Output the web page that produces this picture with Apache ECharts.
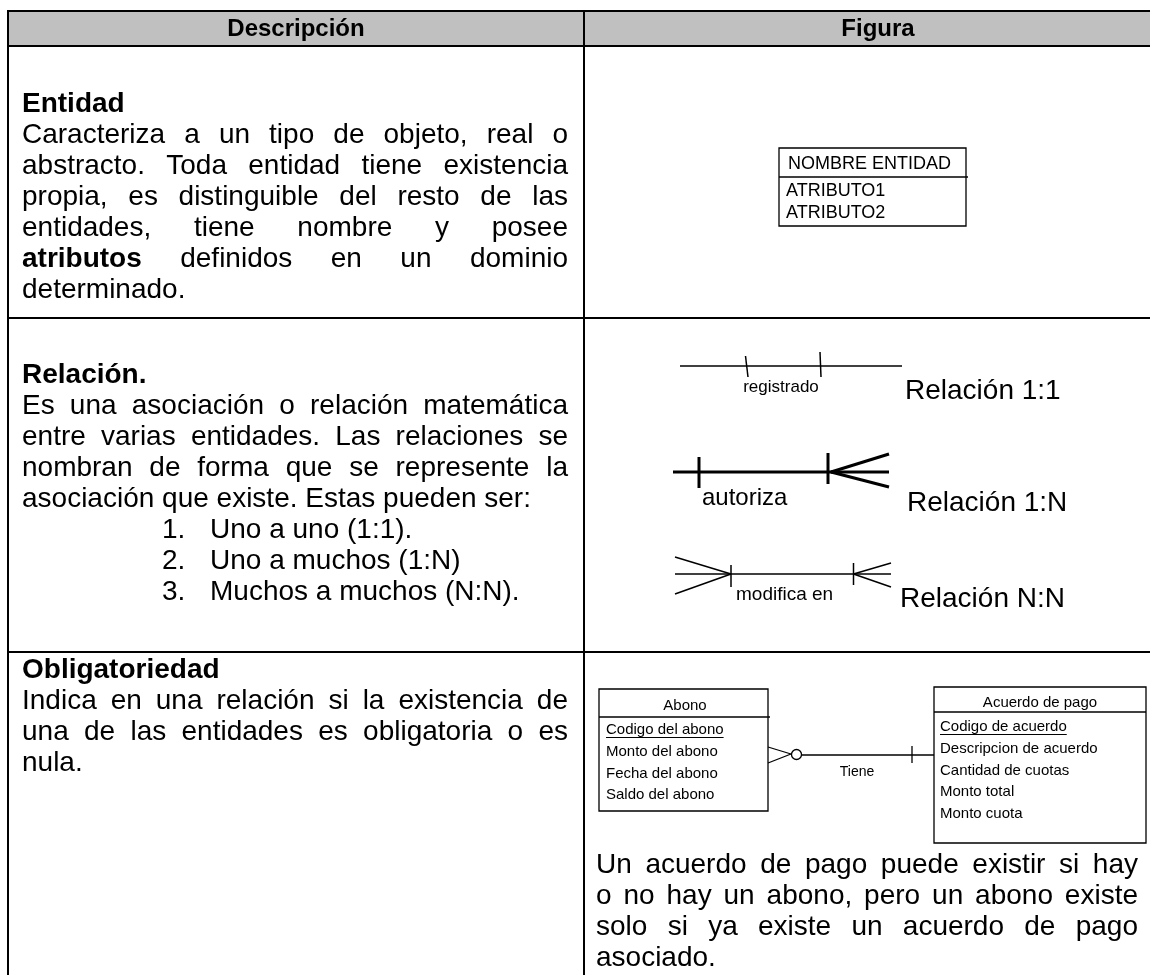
<!DOCTYPE html>
<html><head><meta charset="utf-8">
<script src="https://cdn.jsdelivr.net/npm/echarts@6/dist/echarts.min.js"></script>
<style>html,body{margin:0;padding:0;background:#fff}#c{width:1150px;height:975px}</style>
</head><body><div id="c"></div>
<script>
// ---- content ----
const headers = ['Descripción', 'Figura'];
const rowTitles = ['Entidad', 'Relación.', 'Obligatoriedad'];
const entidadLines = ['Caracteriza a un tipo de objeto, real o', 'abstracto. Toda entidad tiene existencia', 'propia, es distinguible del resto de las', 'entidades, tiene nombre y posee', '**atributos** definidos en un dominio', 'determinado.'];
const relacionLines = ['Es una asociación o relación matemática', 'entre varias entidades. Las relaciones se', 'nombran de forma que se represente la', 'asociación que existe. Estas pueden ser:'];
const relacionTipos = ['Uno a uno (1:1).', 'Uno a muchos (1:N)', 'Muchos a muchos (N:N).'];
const obligLines = ['Indica en una relación si la existencia de', 'una de las entidades es obligatoria o es', 'nula.'];
const obligNota = ['Un acuerdo de pago puede existir si hay', 'o no hay un abono, pero un abono existe', 'solo si ya existe un acuerdo de pago', 'asociado.'];
const entidadEjemplo = 'NOMBRE ENTIDAD';
const atributosEjemplo = ['ATRIBUTO1', 'ATRIBUTO2'];
const relNombres = ['registrado', 'autoriza', 'modifica en'];
const relEtiquetas = ['Relación 1:1', 'Relación 1:N', 'Relación N:N'];
const abonoTitulo = 'Abono';
const abonoAtributos = ['Codigo del abono', 'Monto del abono', 'Fecha del abono', 'Saldo del abono'];
const acuerdoTitulo = 'Acuerdo de pago';
const acuerdoAtributos = ['Codigo de acuerdo', 'Descripcion de acuerdo', 'Cantidad de cuotas', 'Monto total', 'Monto cuota'];
const relacionEjemplo = 'Tiene';

// ---- layout ----
const FAM = '"Liberation Sans", Arial, sans-serif';
const BODY = 28, LH = 31;
const L = 8, MID = 584, RIGHT = 1160, TOP = 11, HEAD_B = 46, ROWS_B = [318, 652, 990];
const ctx = document.createElement('canvas').getContext('2d');
function fontStr(size, bold) { return (bold ? 'bold ' : '') + size + 'px ' + FAM; }
function measure(t, size, bold) { ctx.font = fontStr(size, bold); return ctx.measureText(t).width; }

const G = [];
function txt(x, y, t, size, o) {
  o = o || {};
  G.push({ type: 'text', x: x, y: y + 1, silent: true, z: 10,
    style: { text: t, font: fontStr(size, o.bold), fill: o.fill || '#000',
      align: o.align || 'left', verticalAlign: 'middle' } });
}
function ln(x1, y1, x2, y2, w, c) {
  G.push({ type: 'line', silent: true, z: 5, shape: { x1: x1, y1: y1, x2: x2, y2: y2 },
    style: { stroke: c || '#000', lineWidth: w } });
}
function box(x, y, w, h, lw) {
  G.push({ type: 'rect', silent: true, z: 5, shape: { x: x, y: y, width: w, height: h },
    style: { fill: 'none', stroke: '#000', lineWidth: lw } });
}
function para(lines, x0, x1, y0, size) {
  lines.forEach(function (line, i) {
    const words = line.split(' ').map(function (w) { return { t: w.replace(/\*\*/g, ''), b: w.indexOf('**') === 0 }; });
    const ws = words.map(function (w) { return measure(w.t, size, w.b); });
    const tot = ws.reduce(function (a, b) { return a + b; }, 0);
    const last = i === lines.length - 1;
    const gap = (!last && words.length > 1) ? (x1 - x0 - tot) / (words.length - 1) : measure(' ', size, false);
    let x = x0;
    words.forEach(function (w, k) { txt(x, y0 + i * LH, w.t, size, { bold: w.b }); x += ws[k] + gap; });
  });
}

// ---- table ----
G.push({ type: 'rect', silent: true, z: 1, shape: { x: L, y: TOP, width: RIGHT - L, height: HEAD_B - TOP }, style: { fill: '#c0c0c0' } });
[TOP, HEAD_B].concat(ROWS_B.slice(0, 2)).forEach(function (y) { ln(L - 1, y, RIGHT, y, 2); });
[L, MID].forEach(function (x) { ln(x, TOP - 1, x, 990, 2); });
txt((L + MID) / 2, 28, headers[0], 24, { bold: true, align: 'center' });
txt(878, 28, headers[1], 24, { bold: true, align: 'center' });

const TX0 = 22, TX1 = 568;
// Row 1
txt(TX0, 103, rowTitles[0], BODY, { bold: true });
para(entidadLines, TX0, TX1, 134, BODY);
// Row 2
txt(TX0, 374, rowTitles[1], BODY, { bold: true });
para(relacionLines, TX0, TX1, 405, BODY);
relacionTipos.forEach(function (t, i) {
  txt(162, 529 + i * LH, (i + 1) + '.', BODY);
  txt(210, 529 + i * LH, t, BODY);
});
// Row 3
txt(TX0, 669, rowTitles[2], BODY, { bold: true });
para(obligLines, TX0, TX1, 700, BODY);
para(obligNota, 596, 1138, 864, BODY);

// ---- figure: entity ----
box(779, 148, 187, 78, 1.3);
ln(779, 177, 968, 177, 1.5);
txt(788, 163, entidadEjemplo, 18);
atributosEjemplo.forEach(function (t, i) { txt(786, 190 + i * 22, t, 18); });

// ---- figure: relations ----
// 1:1
ln(680, 366, 902, 366, 1.5);
ln(745.5, 356, 748, 377, 1.5);
ln(820, 352, 821, 377, 1.5);
txt(781, 386, relNombres[0], 17, { align: 'center' });
txt(905, 390, relEtiquetas[0], BODY);
// 1:N
ln(673, 472, 889, 472, 3);
ln(699, 457, 699, 488, 3);
ln(828, 453, 828, 484, 3);
ln(831, 472, 889, 454, 3);
ln(831, 472, 889, 487, 3);
txt(702, 497, relNombres[1], 24);
txt(907, 502, relEtiquetas[1], BODY);
// N:N
ln(675, 574, 891, 574, 1.5);
ln(675, 557, 731, 574, 1.5);
ln(675, 594, 731, 574, 1.5);
ln(731, 565, 731, 587, 1.5);
ln(853.5, 563, 853.5, 585, 1.5);
ln(853.5, 574, 891, 563, 1.5);
ln(853.5, 574, 891, 587, 1.5);
txt(736, 594, relNombres[2], 19);
txt(900, 598, relEtiquetas[2], BODY);

// ---- figure: obligatoriedad ----
box(599, 689, 169, 122, 1.3);
ln(599, 717, 770, 717, 1.5);
txt(685, 705, abonoTitulo, 15, { align: 'center' });
abonoAtributos.forEach(function (t, i) {
  const y = 729 + i * 21.7;
  txt(606, y, t, 15);
  if (i === 0) ln(606, y + 8.5, 606 + measure(t, 15), y + 8.5, 1);
});
box(934, 687, 212, 156, 1.3);
ln(934, 712, 1146, 712, 1.5);
txt(1040, 702, acuerdoTitulo, 15, { align: 'center' });
acuerdoAtributos.forEach(function (t, i) {
  const y = 726 + i * 21.7;
  txt(940, y, t, 15);
  if (i === 0) ln(940, y + 8.5, 940 + measure(t, 15), y + 8.5, 1);
});
ln(768, 747, 791, 754, 1.3);
ln(768, 763, 791, 754, 1.3);
G.push({ type: 'circle', silent: true, z: 6, shape: { cx: 796.5, cy: 754.5, r: 5 }, style: { fill: '#fff', stroke: '#000', lineWidth: 1.3 } });
ln(801.5, 755, 934, 755, 1.3);
ln(912, 746, 912, 763, 1.3);
txt(857, 771, relacionEjemplo, 14, { align: 'center' });

const chart = echarts.init(document.getElementById('c'), null, { renderer: 'canvas' });
chart.setOption({ backgroundColor: '#fff', animation: false, graphic: { elements: G } });
</script>
</body></html>
